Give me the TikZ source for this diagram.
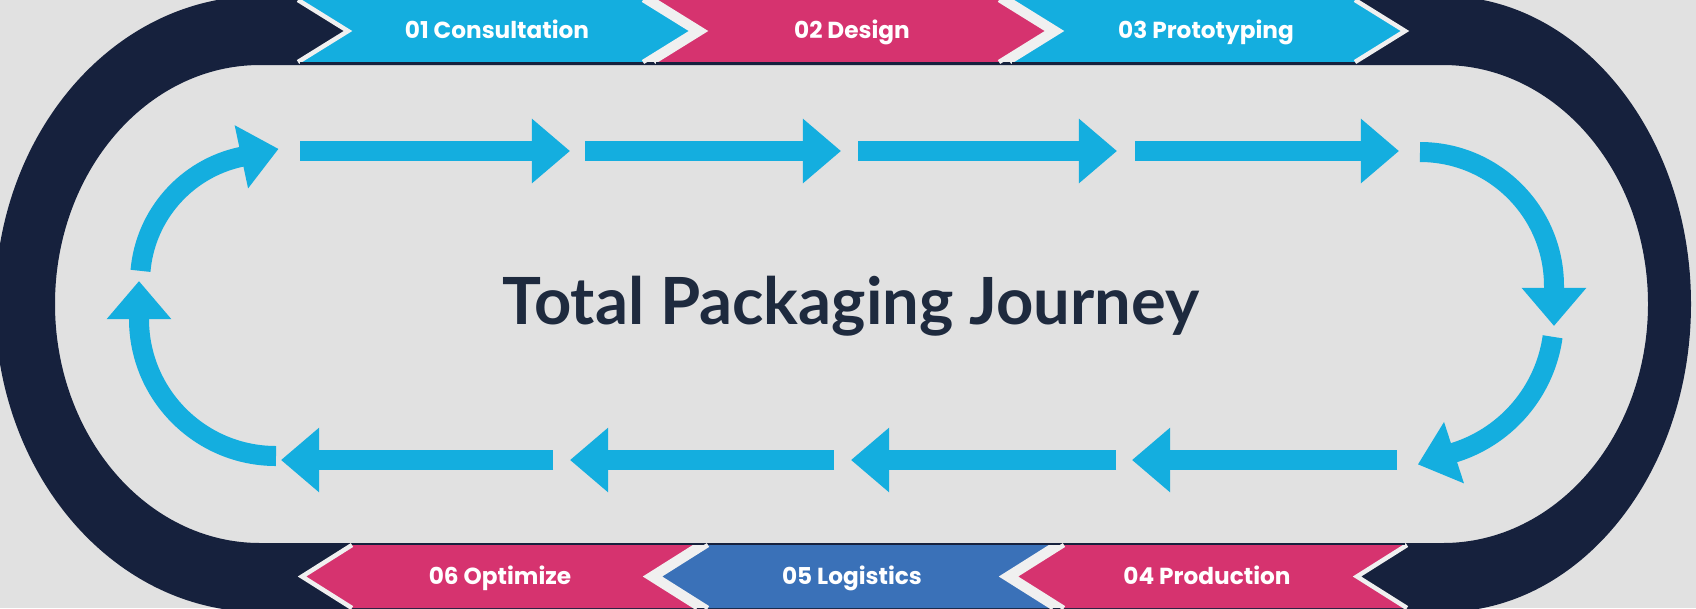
\documentclass[tikz,border=0pt]{standalone}
\usepackage{fontspec}
\setmainfont{Poppins}
\newfontfamily\titlefont{Lato}
\usetikzlibrary{arrows.meta}
\definecolor{bg}{HTML}{E1E1E1}
\definecolor{navy}{HTML}{16213D}
\definecolor{sky}{HTML}{14AEDF}
\definecolor{rose}{HTML}{D6336F}
\definecolor{steel}{HTML}{3A71B8}
\definecolor{gapc}{HTML}{F0F0F0}
\definecolor{ink}{HTML}{1E2A3E}
\tikzset{
  ring/.style={fill=navy, even odd rule},
  flow/.style={draw=sky, line width=0.2cm, -{Triangle[length=0.38cm,width=0.62cm]}},
  edge/.style={draw=gapc, line width=0.045cm, line join=miter},
  shade/.style={draw=navy, line width=0.025cm},
  lab/.style={text=white, font=\bfseries\fontsize{6.6}{7}\selectfont, anchor=base},
  ttl/.style={text=ink, font=\titlefont\bfseries\fontsize{18.5}{20}\selectfont, anchor=base}
}

\begin{document}
\begin{tikzpicture}[x=0.01cm, y=-0.01cm]
  \useasboundingbox (0,0) rectangle (1696,608);
  \clip (0,0) rectangle (1696,608);
  \fill[bg] (0,0) rectangle (1696,608);

  % outer track
  \fill[ring] (260,-4) -- (1443,-4) arc[start angle=270, end angle=450, x radius=248, y radius=308]
    -- (260,612) arc[start angle=90, end angle=270, x radius=265, y radius=308] -- cycle
    (260,65) -- (1443,65) arc[start angle=270, end angle=450, x radius=205, y radius=239]
    -- (260,543) arc[start angle=90, end angle=270, x radius=205, y radius=239] -- cycle;

  % bands behind the banners
  \fill[gapc] (352,0) rectangle (1352,62);
  \fill[gapc] (352,545) rectangle (1355,608);

  % top banners
  \fill[sky] (298,0) -- (643,0) -- (693,31) -- (643,62) -- (298,62) -- (348,31) -- cycle;
  \draw[edge] (298,0) -- (348,31) -- (298,62);
  \draw[edge] (643,0) -- (693,31) -- (643,62);
  \fill[rose] (654,0) -- (999,0) -- (1049,31) -- (999,62) -- (654,62) -- (704,31) -- cycle;
  \draw[edge] (654,0) -- (704,31) -- (654,62);
  \draw[edge] (999,0) -- (1049,31) -- (999,62);
  \fill[sky] (1010,0) -- (1355,0) -- (1405,31) -- (1355,62) -- (1010,62) -- (1060,31) -- cycle;
  \draw[edge] (1010,0) -- (1060,31) -- (1010,62);
  \draw[edge] (1355,0) -- (1405,31) -- (1355,62);
  \draw[shade] (300,63.5) -- (643,63.5);
  \draw[shade] (656,63.5) -- (999,63.5);
  \draw[shade] (1012,63.5) -- (1355,63.5);

  % bottom banners
  \fill[rose] (352,545) -- (697,545) -- (647,576.5) -- (697,608) -- (352,608) -- (302,576.5) -- cycle;
  \draw[edge] (352,545) -- (302,576.5) -- (352,608);
  \draw[edge] (697,545) -- (647,576.5) -- (697,608);
  \fill[steel] (708,545) -- (1053,545) -- (1003,576.5) -- (1053,608) -- (708,608) -- (658,576.5) -- cycle;
  \draw[edge] (708,545) -- (658,576.5) -- (708,608);
  \draw[edge] (1053,545) -- (1003,576.5) -- (1053,608);
  \fill[rose] (1064,545) -- (1407,545) -- (1357,576.5) -- (1407,608) -- (1064,608) -- (1014,576.5) -- cycle;
  \draw[edge] (1064,545) -- (1014,576.5) -- (1064,608);
  \draw[edge] (1407,545) -- (1357,576.5) -- (1407,608);
  \draw[shade] (352,544) -- (697,544);
  \draw[shade] (708,544) -- (1053,544);
  \draw[shade] (1064,544) -- (1405,544);

  \node[lab] (s1) at (497,38.5) {01 Consultation};
  \node[lab] (s2) at (852,38.5) {02 Design};
  \node[lab] (s3) at (1206,38.5) {03 Prototyping};
  \node[lab] (s4) at (1207,584) {04 Production};
  \node[lab] (s5) at (852,584) {05 Logistics};
  \node[lab] (s6) at (500,584) {06 Optimize};

  % loop of arrows
  \draw[flow] (300,151) -- (570,151);
  \draw[flow] (585,151) -- (841,151);
  \draw[flow] (858,151) -- (1117,151);
  \draw[flow] (1135,151) -- (1399,151);
  \draw[flow] (1420,152) arc[start angle=270, end angle=360, radius=134] -- ++(90:40);
  \draw[flow] (1412,317) ++(8:142) arc[start angle=8, end angle=72, radius=142] -- ++(162:40);
  \draw[flow] (1397,460) -- (1132,460);
  \draw[flow] (1116,460) -- (851,460);
  \draw[flow] (834,460) -- (570,460);
  \draw[flow] (553,460) -- (281,460);
  \draw[flow] (276,456) arc[start angle=90, end angle=180, radius=137] -- ++(270:38);
  \draw[flow] (268,282) ++(185:128) arc[start angle=185, end angle=258, radius=128] -- ++(348:38);

  \node[ttl] (title) at (851,324) {Total Packaging Journey};
\end{tikzpicture}
\end{document}
